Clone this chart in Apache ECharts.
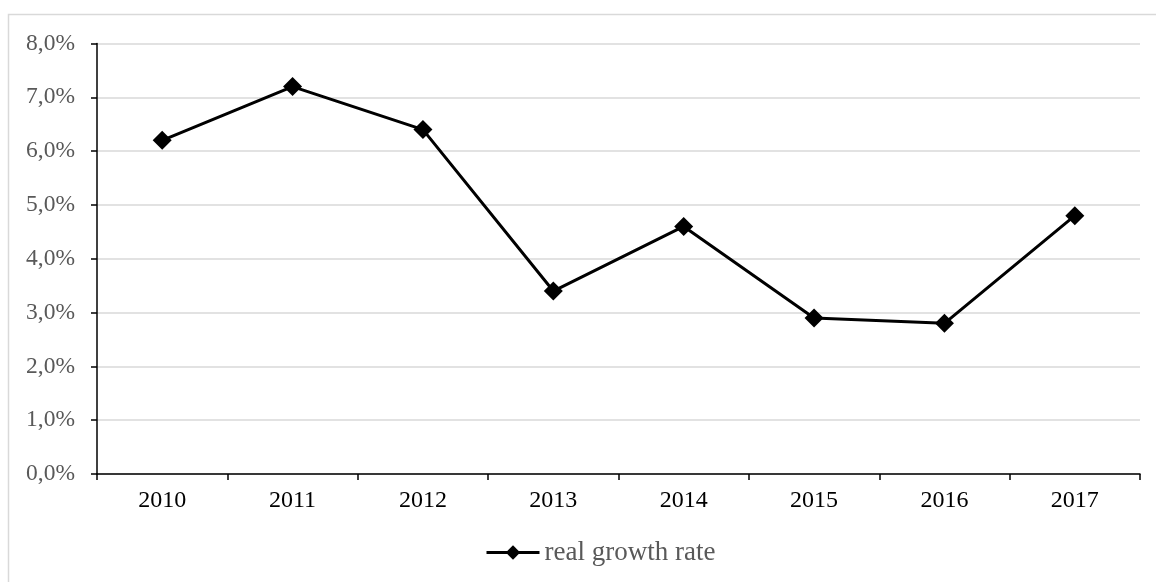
<!DOCTYPE html>
<html><head><meta charset="utf-8">
<script src="https://cdn.jsdelivr.net/npm/echarts@6/dist/echarts.min.js"></script>
<style>html,body{margin:0;padding:0;background:#fff}#c{width:1156px;height:582px}</style>
</head><body><div id="c"></div>
<script>
const categories = ['2010','2011','2012','2013','2014','2015','2016','2017'];
const growthRate = [6.2, 7.2, 6.4, 3.4, 4.6, 2.9, 2.8, 4.8];
const seriesName = 'real growth rate';
const chart = echarts.init(document.getElementById('c'), null, {renderer:'canvas'});
const font = '"Liberation Serif", "Times New Roman", serif';
chart.setOption({
  animation:false,
  graphic:[{type:'rect', shape:{x:8.5,y:14.5,width:1200,height:700}, style:{fill:null, stroke:'#d9d9d9', lineWidth:1.5}, silent:true}],
  grid:{left:97, right:16, top:43.5, bottom:108, containLabel:false},
  xAxis:{type:'category', data:categories, boundaryGap:true,
    axisLine:{lineStyle:{color:'#000', width:1.5}},
    axisTick:{show:true, length:6, alignWithLabel:false, lineStyle:{color:'#000', width:1.5}},
    axisLabel:{color:'#000', fontFamily:font, fontSize:24, margin:15},
    splitLine:{show:false}},
  yAxis:{type:'value', min:0, max:8, interval:1,
    axisLine:{show:true, lineStyle:{color:'#000', width:1.5}},
    axisTick:{show:true, length:6, lineStyle:{color:'#000', width:1.5}},
    axisLabel:{color:'#595959', fontFamily:font, fontSize:23.5, margin:22,
      formatter:v=>v.toFixed(1).replace('.',',')+'%'},
    splitLine:{show:true, lineStyle:{color:'#d9d9d9', width:1.5}}},
  legend:{top:534, left:480, itemWidth:53, itemHeight:18, itemGap:10,
    textStyle:{color:'#595959', fontFamily:font, fontSize:27},
    lineStyle:{width:3},
    data:[{name:seriesName}]},
  series:[{name:seriesName, type:'line', data:growthRate, symbol:'diamond', symbolSize:19,
    lineStyle:{color:'#000', width:3}, itemStyle:{color:'#000'}}]
});
</script></body></html>
